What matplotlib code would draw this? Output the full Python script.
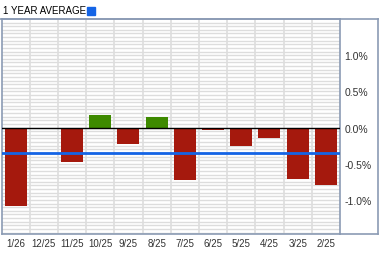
"""1 year average: monthly % change bars with average line."""

import numpy as np
import matplotlib.pyplot as plt
from matplotlib.lines import Line2D
from matplotlib.patches import Rectangle

months = ["1/26", "12/25", "11/25", "10/25", "9/25", "8/25",
          "7/25", "6/25", "5/25", "4/25", "3/25", "2/25"]
change_pct = [-1.09, 0.0, -0.48, 0.18, -0.23, 0.15,
              -0.73, -0.03, -0.26, -0.14, -0.71, -0.80]
year_avg = -0.35
ytick_vals = [-1.0, -0.5, 0.0, 0.5, 1.0]

RED = "#a5190d"
GREEN = "#3e8a00"
BLUE = "#1464e6"
BORDER = "#8b9bb4"
GRID = "#dddddd"
TXT = "#333333"

plt.rcParams["font.family"] = ["Liberation Sans", "DejaVu Sans"]

W, H = 379, 255
fig = plt.figure(figsize=(W / 100, H / 100), dpi=100)

# plot box in pixels: x 1.5..340, y 20..235 (from top)
left, right, top, bottom = 1.5, 340, 20, 235
ax = fig.add_axes([left / W, 1 - bottom / H, (right - left) / W, (bottom - top) / H])

x = np.arange(len(months))
vals = np.array(change_pct)
colors = [GREEN if v > 0 else RED for v in vals]

ax.set_xlim(-0.5, len(months) - 0.5)
ax.set_ylim(-1.47, 1.5)

# grid
for gy in np.arange(-1.45, 1.5, 0.05):
    ax.axhline(gy, color=GRID, lw=1.0, zorder=0)
for gx in np.arange(0.5, len(months) - 0.5, 1):
    ax.axvline(gx, color=GRID, lw=1.2, zorder=0)

ax.bar(x, vals, width=0.78, color=colors, zorder=2)
ax.axhline(0, color="black", lw=1.0, zorder=3)
ax.axhline(year_avg, color=BLUE, lw=2.0, zorder=4)

ax.set_xticks(x)
ax.set_xticklabels(months, fontsize=7, color=TXT)
ax.tick_params(axis="x", length=0, pad=3)

ax.yaxis.tick_right()
ax.set_yticks(ytick_vals)
ax.set_yticklabels([f"{v:.1f}%" for v in ytick_vals], fontsize=7.5, color=TXT)
ax.tick_params(axis="y", length=0, pad=3)

for s in ax.spines.values():
    s.set_color(BORDER)
    s.set_linewidth(1.2)

# outer frame pieces: header rule, right edge, bottom rule under the scale area
fig.add_artist(Line2D([0, 1], [1 - top / H, 1 - top / H], color=BORDER, lw=1.2))
fig.add_artist(Line2D([right / W, 377.5 / W], [1 - bottom / H, 1 - bottom / H], color=BORDER, lw=1.2))
fig.add_artist(Line2D([377.5 / W, 377.5 / W], [1 - top / H, 1 - bottom / H], color=BORDER, lw=1.2))

# header legend
fig.text(3 / W, 1 - 11 / H, "1 YEAR AVERAGE", fontsize=7, color="black", va="center", ha="left")
fig.add_artist(Rectangle((87 / W, 1 - 15.5 / H), 8 / W, 8 / H, color=BLUE))

fig.savefig("out.png", dpi=100)
